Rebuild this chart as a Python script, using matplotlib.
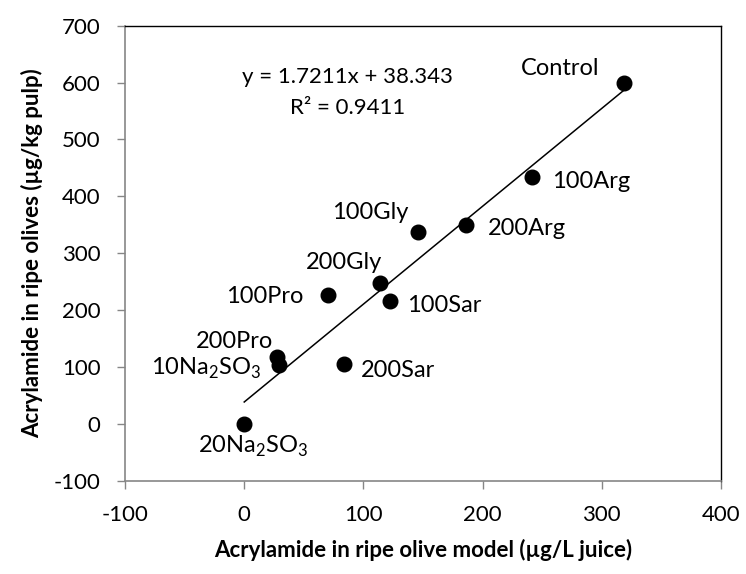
import matplotlib
matplotlib.use("Agg")
import matplotlib.pyplot as plt
import numpy as np

plt.rcParams['font.family'] = ['Lato', 'DejaVu Sans']
plt.rcParams['mathtext.fontset'] = 'custom'
plt.rcParams['mathtext.rm'] = 'Lato'
plt.rcParams['axes.unicode_minus'] = False

# data
labels = ['Control', '100Arg', '200Arg', '100Gly', '200Gly', '100Sar',
          '100Pro', '200Pro', '10Na$_2$SO$_3$', '200Sar', '20Na$_2$SO$_3$']
model = [319, 241.4, 186.2, 145.7, 114.1, 122.5, 70.2, 27.4, 28.8, 84.1, 0]
olives = [598.4, 433.3, 349.5, 337.7, 248.2, 216.5, 226.6, 117.1, 103.6, 104.8, 0]

slope = 1.7211
intercept = 38.343
r2 = 0.9411

xticks = [-100, 0, 100, 200, 300, 400]
yticks = [-100, 0, 100, 200, 300, 400, 500, 600, 700]

# label offsets in pixels (dx, dy, ha)
offsets = [(-25, 8, 'right'), (20, -11, 'left'), (22, -10, 'left'),
           (-10, 13, 'right'), (2, 14, 'right'), (17, -11, 'left'),
           (-25, -8, 'right'), (-4, 9, 'right'), (-17, -10, 'right'),
           (16, -13, 'left'), (9, -29, 'center')]

fig = plt.figure(figsize=(7.46, 5.74), dpi=100)
ax = fig.add_axes([0.1676, 0.1626, 0.7989, 0.7926])

x = np.array(model)
xl = np.array([x.min(), x.max()])
ax.plot(xl, slope * xl + intercept, color='black', lw=1.1, zorder=2)
ax.plot(model, olives, 'o', color='black', ms=10.5, zorder=3)

for lab, xv, yv, (dx, dy, ha) in zip(labels, model, olives, offsets):
    ax.annotate(lab, (xv, yv), xytext=(dx, dy), textcoords='offset pixels',
                ha=ha, va='baseline', fontsize=17)

ax.text(0.374, 0.873, 'y = %.4fx + %.3f' % (slope, intercept),
        transform=ax.transAxes, ha='center', va='baseline', fontsize=16)
ax.text(0.374, 0.807, 'R² = %.4f' % r2,
        transform=ax.transAxes, ha='center', va='baseline', fontsize=16)

ax.set_xlim(-100, 400)
ax.set_ylim(-100, 700)
ax.set_xticks(xticks)
ax.set_yticks(yticks)
ax.tick_params(axis='both', direction='out', length=5.5, width=1,
               color='#868686', labelsize=16, pad=12)

for s in ['left', 'bottom']:
    ax.spines[s].set_color('#868686')
    ax.spines[s].set_linewidth(1.2)
for s in ['top', 'right']:
    ax.spines[s].set_color('black')
    ax.spines[s].set_linewidth(1.0)

ax.set_xlabel('Acrylamide in ripe olive model (µg/L juice)', fontsize=16,
              fontweight='bold', labelpad=10)
ax.set_ylabel('Acrylamide in ripe olives (µg/kg pulp)', fontsize=16,
              fontweight='bold', labelpad=8)

fig.savefig('out.png', dpi=100)
